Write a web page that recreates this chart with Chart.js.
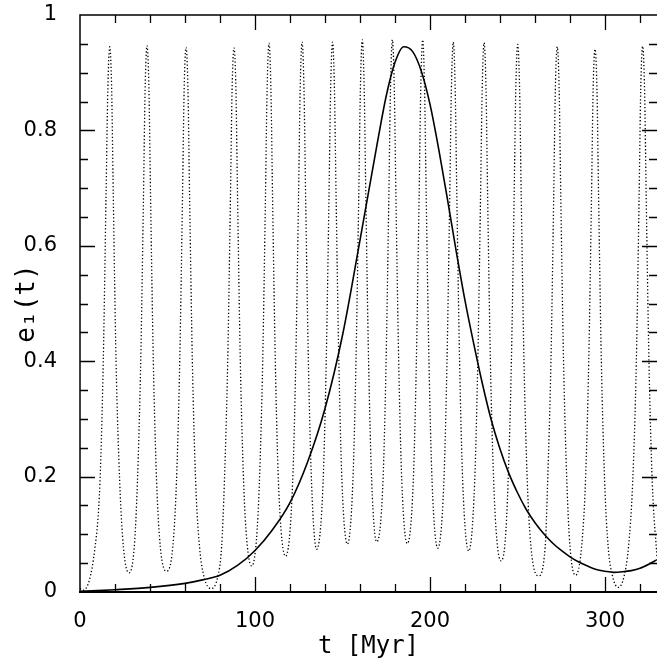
<!DOCTYPE html>
<html lang="en">

<head>
    <meta charset="UTF-8">
    <title>e1(t) vs t</title>
    <script src="https://cdn.jsdelivr.net/npm/chart.js"></script>
    <style>
        html, body {
            margin: 0;
            padding: 0;
            background: #fff;
            overflow: hidden;
        }

        .chart-box {
            position: relative;
            width: 657px;
            height: 664px;
        }
    </style>
</head>

<body>
    <div class="chart-box">
        <canvas id="eccChart"></canvas>
    </div>

    <script>
        // tick values shown as labels
        const xTicks = [0, 100, 200, 300];
        const yTicks = [0, 0.2, 0.4, 0.6, 0.8, 1];

        // dotted curve (fast oscillation)
        const dottedT = [
            0, 1.8,
            8.6, 11.4, 13.3, 14.9, 15.9, 17.0,
            18.1, 19.0, 20.6, 22.7, 24.8, 28.0,
            31.0, 32.8, 34.7, 36.3, 37.2, 38.3,
            39.4, 40.3, 41.9, 43.8, 45.9, 49.5,
            53.0, 55.1, 57.0, 58.6, 59.5, 60.6,
            61.7, 62.6, 64.2, 66.1, 68.3, 71.0, 74.9,
            78.6, 80.9, 82.5, 84.4, 86.0, 86.9, 88.0,
            89.1, 90.0, 91.6, 93.5, 95.3, 98.1,
            100.8, 102.5, 104.4, 106.0, 106.9, 108.0,
            109.1, 110.0, 111.6, 113.4, 117.5,
            121.5, 123.3, 124.9, 125.8, 126.9,
            128.0, 128.9, 130.5, 132.3, 135.2,
            138.9, 140.7, 142.3, 143.2, 144.3,
            145.4, 146.3, 147.9, 149.7, 152.8,
            155.9, 157.7, 159.3, 160.2, 161.3,
            162.4, 163.3, 164.9, 166.7, 169.5,
            173.1, 174.9, 176.5, 177.4, 178.5,
            179.6, 180.5, 182.1, 183.9, 187.0,
            190.4, 192.2, 193.8, 194.7, 195.8,
            196.9, 197.8, 199.4, 201.2, 204.4,
            207.9, 209.7, 211.3, 212.2, 213.3,
            214.4, 215.3, 216.9, 218.7, 222.1,
            225.5, 227.3, 228.9, 229.8, 230.9,
            232.0, 232.9, 234.5, 236.4, 238.2, 240.6,
            243.0, 244.6, 246.5, 248.1, 249.0, 250.1,
            251.2, 252.1, 253.7, 255.6, 257.7, 261.9,
            265.8, 267.2, 269.1, 270.7, 271.6, 272.7,
            273.8, 274.7, 276.3, 278.2, 280.0, 283.2,
            286.6, 288.8, 290.7, 292.3, 293.2, 294.3,
            295.4, 296.3, 297.9, 299.8, 301.8, 304.5, 307.6,
            310.7, 313.4, 315.8, 317.9, 319.5, 320.4, 321.5,
            322.6, 323.5, 325.1, 327.0, 329.7
        ];
        const dottedE = [
            0.006, 0.003,
            0.078, 0.19, 0.4, 0.69, 0.87, 0.945,
            0.87, 0.69, 0.4, 0.19, 0.078, 0.033,
            0.078, 0.19, 0.4, 0.69, 0.87, 0.947,
            0.87, 0.69, 0.4, 0.19, 0.078, 0.036,
            0.078, 0.19, 0.4, 0.69, 0.87, 0.944,
            0.87, 0.69, 0.4, 0.19, 0.078, 0.025, 0.006,
            0.025, 0.078, 0.19, 0.4, 0.69, 0.87, 0.943,
            0.87, 0.69, 0.4, 0.19, 0.09, 0.045,
            0.09, 0.19, 0.4, 0.69, 0.87, 0.951,
            0.87, 0.69, 0.4, 0.19, 0.062,
            0.19, 0.4, 0.69, 0.87, 0.953,
            0.87, 0.69, 0.4, 0.19, 0.074,
            0.19, 0.4, 0.69, 0.87, 0.953,
            0.87, 0.69, 0.4, 0.19, 0.083,
            0.19, 0.4, 0.69, 0.87, 0.957,
            0.87, 0.69, 0.4, 0.19, 0.087,
            0.19, 0.4, 0.69, 0.87, 0.957,
            0.87, 0.69, 0.4, 0.19, 0.084,
            0.19, 0.4, 0.69, 0.87, 0.957,
            0.87, 0.69, 0.4, 0.19, 0.076,
            0.19, 0.4, 0.69, 0.87, 0.953,
            0.87, 0.69, 0.4, 0.19, 0.071,
            0.19, 0.4, 0.69, 0.87, 0.952,
            0.87, 0.69, 0.4, 0.19, 0.09, 0.054,
            0.09, 0.19, 0.4, 0.69, 0.87, 0.949,
            0.87, 0.69, 0.4, 0.19, 0.078, 0.028,
            0.078, 0.19, 0.4, 0.69, 0.87, 0.945,
            0.87, 0.69, 0.4, 0.19, 0.078, 0.029,
            0.078, 0.19, 0.4, 0.69, 0.87, 0.941,
            0.87, 0.69, 0.4, 0.19, 0.078, 0.025, 0.008,
            0.025, 0.078, 0.19, 0.4, 0.69, 0.87, 0.946,
            0.87, 0.69, 0.4, 0.19, 0.06
        ];

        // solid curve (slow single hump)
        const solidT = [0, 20, 40, 60, 70, 80, 90, 100, 110, 120, 130, 140, 150, 160, 170, 175, 180,
            185, 190, 195, 200, 205, 210, 215, 220, 225, 230, 235, 240, 245, 250, 255, 260, 265,
            270, 275, 280, 285, 290, 295, 300, 305, 310, 315, 320, 325, 329.7];
        const solidE = [0.001, 0.004, 0.008, 0.015, 0.021, 0.029, 0.046, 0.072, 0.108, 0.155, 0.225, 0.318, 0.445, 0.61, 0.78, 0.86, 0.918,
            0.945, 0.937, 0.903, 0.845, 0.767, 0.68, 0.59, 0.505, 0.43, 0.36, 0.298, 0.248, 0.206, 0.172, 0.143, 0.12, 0.101,
            0.085, 0.072, 0.061, 0.052, 0.045, 0.039, 0.036, 0.034, 0.035, 0.037, 0.041, 0.048, 0.056];

        const toPoints = (xs, ys) => xs.map((x, i) => ({ x: x, y: ys[i] }));

        // inward ticks on all four sides plus the frame
        const frameTicks = {
            id: 'frameTicks',
            afterDraw(chart) {
                const c = chart.ctx;
                const a = chart.chartArea;
                const xs = chart.scales.x;
                const ys = chart.scales.y;
                c.save();
                c.strokeStyle = '#000';
                c.lineWidth = 1.5;
                c.beginPath();
                c.moveTo(a.right + 2, a.top);
                c.lineTo(a.left, a.top);
                c.lineTo(a.left, a.bottom);
                c.stroke();
                c.lineWidth = 2.2;
                c.beginPath();
                c.moveTo(a.left - 1, a.bottom);
                c.lineTo(a.right + 2, a.bottom);
                c.stroke();

                c.lineWidth = 1.3;
                c.beginPath();
                for (let v = 20; v <= xs.max; v += 20) {
                    const px = Math.round(xs.getPixelForValue(v)) + 0.5;
                    const len = (v % 100 === 0) ? 15 : 8;
                    c.moveTo(px, a.bottom);
                    c.lineTo(px, a.bottom - len);
                    c.moveTo(px, a.top);
                    c.lineTo(px, a.top + len);
                }
                for (let k = 1; k < 20; k++) {
                    const py = Math.round(ys.getPixelForValue(k * 0.05)) + 0.5;
                    const len = (k % 4 === 0) ? 15 : 8;
                    c.moveTo(a.left, py);
                    c.lineTo(a.left + len, py);
                    c.moveTo(a.right, py);
                    c.lineTo(a.right - len, py);
                }
                c.stroke();
                c.restore();
            }
        };

        const ctx = document.getElementById('eccChart').getContext('2d');
        const eccChart = new Chart(ctx, {
            type: 'line',
            data: {
                datasets: [{
                    label: 'dotted',
                    data: toPoints(dottedT, dottedE),
                    borderColor: '#000',
                    borderWidth: 1.3,
                    borderDash: [1.3, 2.2],
                    pointRadius: 0,
                    cubicInterpolationMode: 'monotone',
                    fill: false
                }, {
                    label: 'solid',
                    data: toPoints(solidT, solidE),
                    borderColor: '#000',
                    borderWidth: 1.6,
                    pointRadius: 0,
                    cubicInterpolationMode: 'monotone',
                    fill: false
                }]
            },
            options: {
                responsive: true,
                maintainAspectRatio: false,
                animation: false,
                layout: {
                    padding: { top: 15, right: 0, bottom: 0, left: 0 }
                },
                plugins: {
                    legend: { display: false },
                    tooltip: { enabled: false }
                },
                scales: {
                    x: {
                        type: 'linear',
                        min: 0,
                        max: 329.7,
                        grid: { display: false },
                        border: { display: false },
                        afterBuildTicks: s => { s.ticks = xTicks.map(v => ({ value: v })); },
                        afterFit: s => { s.height = 72; },
                        ticks: {
                            includeBounds: false,
                            autoSkip: false,
                            maxRotation: 0,
                            padding: 9,
                            color: '#000',
                            font: { family: 'DejaVu Sans', size: 21 },
                            callback: v => String(v)
                        },
                        title: {
                            display: true,
                            text: 't [Myr]',
                            color: '#000',
                            font: { family: 'DejaVu Sans Mono', size: 24 },
                            padding: { top: 0, bottom: 3 }
                        }
                    },
                    y: {
                        type: 'linear',
                        min: 0,
                        max: 1,
                        grid: { display: false },
                        border: { display: false },
                        afterBuildTicks: s => { s.ticks = yTicks.map(v => ({ value: v })); },
                        afterFit: s => {
                            s.width = 80;
                            s.paddingTop = 0;
                            s.paddingBottom = 0;
                        },
                        ticks: {
                            includeBounds: false,
                            autoSkip: false,
                            padding: 15,
                            color: '#000',
                            font: { family: 'DejaVu Sans', size: 21 },
                            callback: v => String(Number(v.toFixed(2)))
                        },
                        title: {
                            display: true,
                            text: 'e₁(t)',
                            color: '#000',
                            font: { family: 'DejaVu Sans Mono', size: 26 },
                            padding: { top: 12, bottom: 0 }
                        }
                    }
                }
            },
            plugins: [frameTicks]
        });
    </script>
</body>

</html>
